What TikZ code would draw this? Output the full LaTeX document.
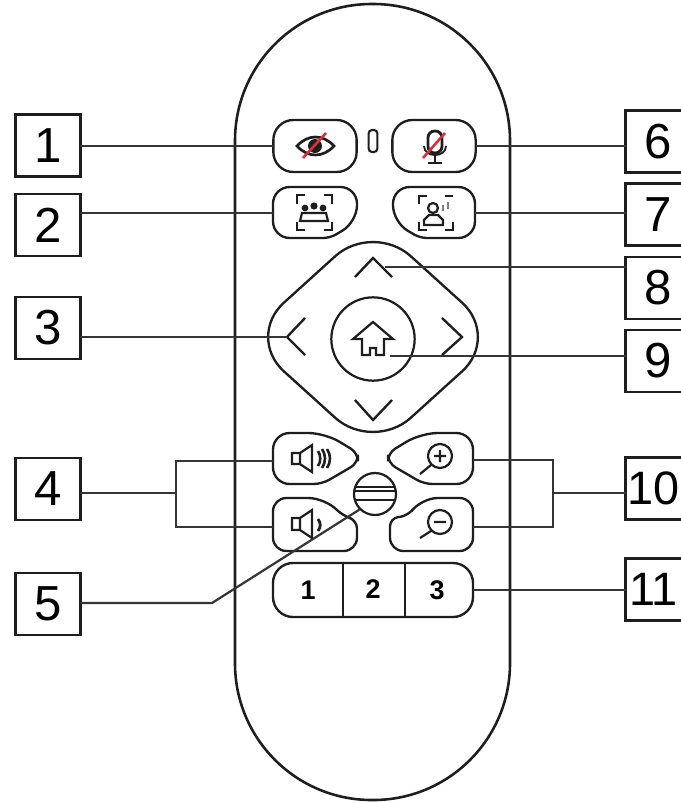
\documentclass[tikz,border=0pt]{standalone}
\usepackage{fontspec}
\setmainfont{Liberation Sans}
\definecolor{inkgray}{HTML}{1E1E1E}
\definecolor{slashred}{HTML}{D8303A}
\tikzset{
  numbox/.style={draw=inkgray, line width=2.2pt, minimum width=1.94cm, minimum height=1.87cm, inner sep=0pt, outer sep=0pt, font=\fontsize{42}{42}\selectfont},
  keybtn/.style={draw=inkgray, line width=2pt, minimum width=2.5cm, minimum height=1.56cm, inner sep=0pt, outer sep=0pt, rounded corners=0.6cm},
  keyline/.style={draw=inkgray, line width=2pt, rounded corners=0.5cm},
  wire/.style={draw=inkgray!90, line width=1.9pt},
  icon/.style={draw=inkgray, line width=1.6pt},
  slash/.style={draw=slashred, line width=1.8pt},
  keynum/.style={inner sep=0pt, font=\bfseries\fontsize{23}{23}\selectfont}
}
\begin{document}
\begin{tikzpicture}[x=0.03cm, y=-0.03cm]
  \useasboundingbox (0,0) rectangle (681,803);
  \clip (0,0) rectangle (681,803);
  % remote body
  \draw [keyline, line width=2.2pt, rounded corners=4.1cm] (235,4) rectangle (510,800);
  % number boxes
  \node [numbox] (boxone) at (48,145.5) {1};
  \node [numbox] (boxtwo) at (48,225) {2};
  \node [numbox] (boxthree) at (48,328) {3};
  \node [numbox] (boxfour) at (48,489) {4};
  \node [numbox] (boxfive) at (48,604) {5};
  \node [numbox] (boxsix) at (658,141.5) {6};
  \node [numbox] (boxseven) at (658,214.5) {7};
  \node [numbox] (boxeight) at (658,288) {8};
  \node [numbox] (boxnine) at (658,361) {9};
  \node [numbox, font=\fontsize{40}{40}\selectfont] (boxten) at (658,488.5) {10\kern7.5pt};
  \node [numbox, font=\fontsize{40}{40}\selectfont] (boxeleven) at (658,589.5) {11\kern7.5pt};
  % top buttons
  \node [keybtn] (btneye) at (315,146) {};
  \node [keybtn] (btnmic) at (434,146) {};
  \node [draw=inkgray, line width=1.8pt, minimum width=0.26cm, minimum height=0.66cm, rounded corners=0.1cm, inner sep=0pt] (led) at (373,141) {};
  \draw [keyline] (273,187) -- (357,187) -- (357,222) [rounded corners=0.2cm] -- (330,238) [rounded corners=0.5cm] -- (273,238) -- cycle;
  \draw [keyline] (475,187) -- (393,187) -- (393,222) [rounded corners=0.2cm] -- (420,238) [rounded corners=0.5cm] -- (475,238) -- cycle;
  \coordinate (btngroup) at (273,213);
  \coordinate (btnperson) at (475,213);
  % arrow pad
  \draw [keyline, rounded corners=1.53cm] (373,222) -- (500,337) -- (373,452) -- (246,337) -- cycle;
  \node [circle, draw=inkgray, line width=1.9pt, minimum size=2.5cm, inner sep=0pt] (btnhome) at (373,339) {};
  \draw [keyline, rounded corners=0pt] (355,277) -- (373,258) -- (392,277);
  \draw [keyline, rounded corners=0pt] (355,400) -- (373,420) -- (392,400);
  \draw [keyline, rounded corners=0pt] (305,318) -- (287,337) -- (305,355);
  \draw [keyline, rounded corners=0pt] (442,318) -- (462,337) -- (442,355);
  \coordinate (chevup) at (385,267);
  \coordinate (chevleft) at (287,337);
  \coordinate (homeicon) at (390,356);
  % volume and zoom
  \draw [keyline] (273,433) -- (325,433) [rounded corners=0.25cm] -- (358,453) -- (358,463) -- (322,484) [rounded corners=0.5cm] -- (273,484) -- cycle;
  \draw [keyline] (273,498) -- (325,498) [rounded corners=0.25cm] -- (343,516) -- (357,520) [rounded corners=0.4cm] -- (357,551) -- (273,551) -- cycle;
  \draw [keyline] (473,433) -- (421,433) [rounded corners=0.25cm] -- (388,453) -- (388,463) -- (424,484) [rounded corners=0.5cm] -- (473,484) -- cycle;
  \draw [keyline] (473,498) -- (421,498) [rounded corners=0.25cm] -- (408,516) -- (390,518) [rounded corners=0.4cm] -- (390,551) -- (473,551) -- cycle;
  \coordinate (btnvolup) at (273,461);
  \coordinate (btnvoldown) at (273,527);
  \coordinate (btnzoomin) at (473,460);
  \coordinate (btnzoomout) at (473,527);
  \coordinate (volsplit) at (176,493);
  \coordinate (zoomsplit) at (553,493);
  \coordinate (menuknee) at (212,603);
  \node [circle, draw=inkgray, line width=1.9pt, minimum size=1.26cm, inner sep=0pt, fill=white] (btnmenu) at (375,494) {};
  % preset bar
  \node [keybtn, minimum width=6cm, minimum height=1.62cm] (btnbar) at (373,590) {};
  \draw [keyline, rounded corners=0pt] (343,563) -- (343,617);
  \draw [keyline, rounded corners=0pt] (405,563) -- (405,617);
  \node [keynum] (presetone) at (308,590) {1};
  \node [keynum] (presettwo) at (373,589) {2};
  \node [keynum] (presetthree) at (437,590) {3};
  % icons
  \draw [icon, line width=2.3pt] (297,146) .. controls (308,134) and (323,134) .. (334,146) .. controls (323,158) and (308,158) .. cycle;
  \fill [inkgray] (315,146) circle [radius=7];
  \draw [slash, line width=2.2pt] (303,158) -- (326,133);
  \draw [icon, line width=2.4pt, rounded corners=0.2cm] (428,131) rectangle (442,153);
  \draw [icon] (424,146) .. controls (424,158) and (446,158) .. (446,146);
  \draw [icon] (435,156) -- (435,163) (428,163) -- (442,163);
  \draw [slash, line width=2.2pt] (423,158) -- (445,133);
  \draw [icon] (297,204) -- (297,195) -- (305,195) (324,195) -- (332,195) -- (332,204) (297,222) -- (297,230) -- (305,230) (324,230) -- (332,230) -- (332,222);
  \fill [inkgray] (305,208) circle [radius=3.4] (314,206) circle [radius=3.6] (323,208) circle [radius=3.4];
  \draw [icon, line width=1.8pt] (300,221) -- (302,213) -- (326,213) -- (328,221) -- cycle;
  \draw [icon] (419,204) -- (419,196) -- (427,196) (445,196) -- (453,196) (419,222) -- (419,230) -- (427,230) (445,230) -- (453,230) -- (453,222);
  \draw [icon, line width=1.9pt] (433,208) circle [radius=5];
  \draw [icon, line width=1.9pt] (424,225) -- (424,220) -- (429,215) -- (438,215) -- (443,220) -- (443,225) -- cycle;
  \draw [icon, draw=gray, line width=2pt] (443,205) -- (443,211) (448,202) -- (448,209);
  \draw [icon, line width=1.9pt] (353,339) -- (373,322) -- (393,339) -- (384,339) -- (384,355) -- (376,355) -- (376,348) -- (370,348) -- (370,355) -- (362,355) -- (362,339) -- cycle;
  \draw [icon, line width=1.9pt] (292,453) rectangle (300,464) (300,453) -- (312,445) -- (312,472) -- (300,464);
  \draw [icon, line width=2.2pt] (318,451) .. controls (321,455) and (321,462) .. (318,466) (322,449) .. controls (326,455) and (326,462) .. (322,468) (327,449) .. controls (331,455) and (331,462) .. (327,468);
  \draw [icon, line width=1.9pt] (292,518) rectangle (300,530) (300,518) -- (312,510) -- (312,538) -- (300,530);
  \draw [icon, line width=2.4pt] (318,519) .. controls (321,523) and (321,527) .. (318,531);
  \draw [icon, line width=1.9pt] (440,456) circle [radius=12] (431,465) -- (420,474) (434,456) -- (446,456) (440,450) -- (440,462);
  \draw [icon, line width=1.9pt] (440,522) circle [radius=12] (431,531) -- (420,538) (434,522) -- (446,522);
  \draw [icon, line width=2pt] (356,487) -- (394,487) (355,491) -- (395,491) (356,500) -- (394,500);
  % connectors
  \draw [wire] (boxone.east |- btneye.west) -- (btneye.west);
  \draw [wire] (boxtwo.east |- btngroup) -- (btngroup);
  \draw [wire] (boxthree.east |- chevleft) -- (chevleft);
  \draw [wire] (btnmic.east) -- (btnmic.east -| boxsix.west);
  \draw [wire] (btnperson) -- (btnperson -| boxseven.west);
  \draw [wire] (chevup) -- (chevup -| boxeight.west);
  \draw [wire] (homeicon) -- (homeicon -| boxnine.west);
  \draw [wire] (volsplit -| boxfour.east) -- (volsplit);
  \draw [wire] (btnvolup) -| (volsplit) |- (btnvoldown);
  \draw [wire] (btnzoomin) -| (zoomsplit) |- (btnzoomout);
  \draw [wire] (zoomsplit) -- (zoomsplit -| boxten.west);
  \draw [wire] (menuknee -| boxfive.east) -- (menuknee) -- (btnmenu.south west);
  \draw [wire] (btnbar.east) -- (btnbar.east -| boxeleven.west);
\end{tikzpicture}
\end{document}
